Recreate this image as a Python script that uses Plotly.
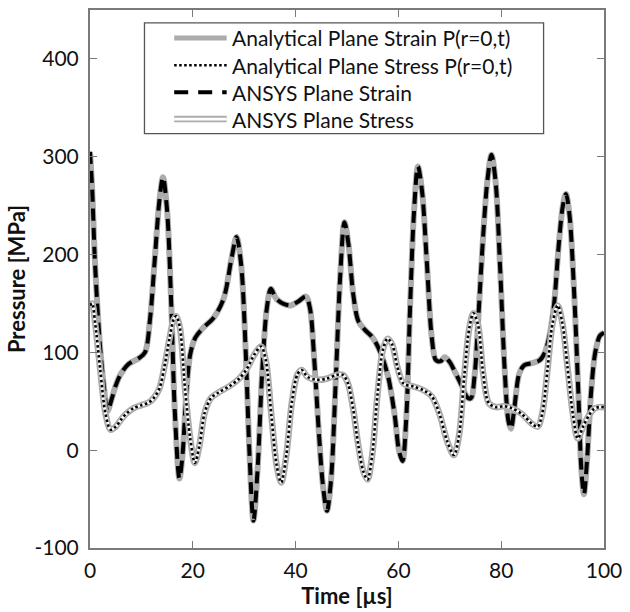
import plotly.graph_objects as go

# ---------------- data ----------------
t_strain = [0, 0.4, 0.9, 1.4, 2.05, 2.7, 3.4, 4.2, 5, 6, 7.5, 9.5, 10.7, 11.7, 12.6, 13.5, 14.2, 15, 15.8, 16.5,
            17.4, 18.0, 18.7, 19.5, 20.5, 22, 24, 26, 27.5, 28.5, 29.4, 30.3, 31.0, 31.8, 32.6, 33.5, 34.4, 35.2,
            36.2, 37.5, 39, 40.5, 42, 42.8, 43.6, 44.5, 45.3, 46.1, 46.9, 47.8, 48.7, 49.5, 50.3, 51.2, 52.2, 53.5,
            55, 56.5, 58, 59.3, 60.1, 60.8, 61.5, 62.3, 63, 63.8, 64.6, 65.5, 66.5, 67.3, 68.2, 69, 70, 71, 72.5,
            73.4, 74.1, 74.8, 75.6, 76.5, 77.3, 78.1, 78.9, 79.8, 80.7, 81.4, 81.9, 82.6, 83.5, 84.5, 86, 87.5,
            88.5, 89.5, 90.3, 91.2, 92, 92.6, 93.3, 94.2, 95, 95.6, 96.1, 96.7, 97.5, 98.3, 99.2, 100]
p_strain = [305, 270, 200, 150, 100, 65, 40, 52, 66, 78, 88, 94, 100, 135, 195, 255, 279, 245, 150, 40,
            -29, -5, 55, 98, 115, 125, 135, 155, 195, 218, 190, 100, 0, -72, -20, 80, 145, 165,
            155, 150, 148, 152, 157, 145, 95, 20, -35, -62, -30, 70, 180, 233, 210, 160, 132, 123,
            115, 100, 75, 35, 0, -11, 30, 150, 240, 290, 265, 195, 115, 92, 91, 95, 90, 80, 64,
            54, 53, 75, 140, 220, 275, 302, 275, 185, 80, 30, 22, 45, 78, 87, 89, 92,
            100, 120, 150, 210, 250, 262, 240, 160, 60, -20, -45, -10, 60, 100, 117, 120]

t_stress = [0, 0.4, 1, 2, 3, 4, 5, 6, 7, 8.5, 10, 11.5, 12.5, 13.5, 14.5, 15.5, 16.3, 16.8, 17.5, 18.5, 19.5,
            20.4, 21.3, 22.3, 23.5, 25, 27, 29, 30.5, 32, 33.3, 34.2, 35.3, 36.3, 37.2, 38.2, 39.3, 40.4, 41.2,
            42.3, 44, 46, 48, 49.2, 50.2, 51.2, 52.2, 53.2, 54, 54.9, 55.9, 57, 57.9, 58.8, 59.8, 61, 63, 65,
            66.5, 68, 69.5, 70.8, 71.8, 72.8, 73.8, 74.6, 75.5, 76.5, 77.6, 79, 80.5, 82, 84, 86, 87.1, 88, 89,
            90, 91, 91.9, 92.9, 94, 94.9, 96, 97, 98, 99, 100]
p_stress = [148, 150, 130, 82, 38, 21, 24, 31, 37, 43, 46, 49, 54, 63, 86, 115, 134, 137, 125, 62, 12,
            -13, 5, 38, 53, 59, 65, 73, 83, 98, 106, 92, 35, -15, -33, -5, 50, 78, 82,
            75, 72, 73, 77, 77, 68, 42, 5, -22, -30, -5, 55, 103, 114, 108, 85, 68, 65, 61,
            55, 37, 9, -5, 15, 75, 125, 140, 128, 78, 48, 44, 45, 43, 37, 27, 24, 38, 82,
            130, 148, 130, 85, 35, 12, 25, 35, 42, 44, 44]

legend_names = ["Analytical Plane Strain P(r=0,t)", "Analytical Plane Stress P(r=0,t)",
                "ANSYS Plane Strain", "ANSYS Plane Stress"]
x_ticks = [0, 20, 40, 60, 80, 100]
y_ticks = [-100, 0, 100, 200, 300, 400]

# ---------------- styles ----------------
GRAY = "#acacac"
FONT = "Lato"
TXT = "#111111"
W, H = 630, 612
L, R, T, B = 90, 21, 8, 64
PW, PH = W - L - R, H - T - B

def px(x):
    return (x - L) / PW

def py(y):
    return (H - B - y) / PH

fig = go.Figure()
spl = dict(shape="spline", smoothing=0.9)

# Strain: analytical (gray solid) + ANSYS (black dashed)
fig.add_trace(go.Scatter(x=t_strain, y=p_strain, mode="lines", name=legend_names[0], showlegend=False,
                         line=dict(color=GRAY, width=6, **spl)))
fig.add_trace(go.Scatter(x=t_strain, y=p_strain, mode="lines", name=legend_names[2], showlegend=False,
                         line=dict(color="black", width=4, dash="12px,7px", **spl)))
# Stress: ANSYS (gray double line) + analytical (black dotted)
fig.add_trace(go.Scatter(x=t_stress, y=p_stress, mode="lines", name=legend_names[3], showlegend=False,
                         line=dict(color=GRAY, width=6.5, **spl)))
fig.add_trace(go.Scatter(x=t_stress, y=p_stress, mode="lines", showlegend=False, hoverinfo="skip",
                         line=dict(color="white", width=2.8, **spl)))
fig.add_trace(go.Scatter(x=t_stress, y=p_stress, mode="lines", name=legend_names[1], showlegend=False,
                         line=dict(color="black", width=2.6, dash="2.5px,2.5px", **spl)))

# ---------------- manual legend ----------------
shapes = []
annotations = []
bx0, bx1, by0, by1 = 145, 548, 21, 132
shapes.append(dict(type="rect", xref="paper", yref="paper", x0=px(bx0), x1=px(bx1), y0=py(by1), y1=py(by0),
                   line=dict(color="#555555", width=1.3), fillcolor="white", layer="above"))
rows = [36, 63.5, 90.5, 117.5]
sx0, sx1, tx = 175, 228, 231
styles = [
    [dict(color=GRAY, width=5)],
    [dict(color="black", width=2.6, dash="2.5px,2.5px")],
    [dict(color="black", width=4, dash="14px,10px")],
    [dict(color=GRAY, width=6.5), dict(color="white", width=2.8)],
]
for yy, name, sts in zip(rows, legend_names, styles):
    for st in sts:
        shapes.append(dict(type="line", xref="paper", yref="paper", x0=px(sx0), x1=px(sx1), y0=py(yy), y1=py(yy),
                           line=st, layer="above"))
    annotations.append(dict(text=name, xref="paper", yref="paper", x=px(tx), y=py(yy), xanchor="left",
                            yanchor="middle", showarrow=False, font=dict(family=FONT, size=21, color=TXT)))

axis_common = dict(showgrid=False, zeroline=False, showline=True, linecolor="#7a7a7a", linewidth=2,
                   mirror="ticks", ticks="inside", ticklen=7, tickwidth=1.3, tickcolor="#7a7a7a",
                   tickfont=dict(family=FONT, size=21, color=TXT))

fig.update_layout(
    width=W, height=H, margin=dict(l=L, r=R, t=T, b=B, pad=0),
    paper_bgcolor="white", plot_bgcolor="white",
    xaxis=dict(range=[0, 100], tickvals=x_ticks, ticktext=[str(v) for v in x_ticks], ticklabelstandoff=3,
               title=dict(text="<b>Time [µs]</b>", font=dict(family=FONT, size=22, color=TXT), standoff=5),
               **axis_common),
    yaxis=dict(range=[-100, 450], tickvals=y_ticks, ticktext=[str(v) for v in y_ticks], ticklabelstandoff=5,
               title=dict(text="<b>Pressure [MPa]</b>", font=dict(family=FONT, size=22, color=TXT), standoff=3),
               **axis_common),
    shapes=shapes, annotations=annotations, showlegend=False,
)

fig.write_html("out.html")
